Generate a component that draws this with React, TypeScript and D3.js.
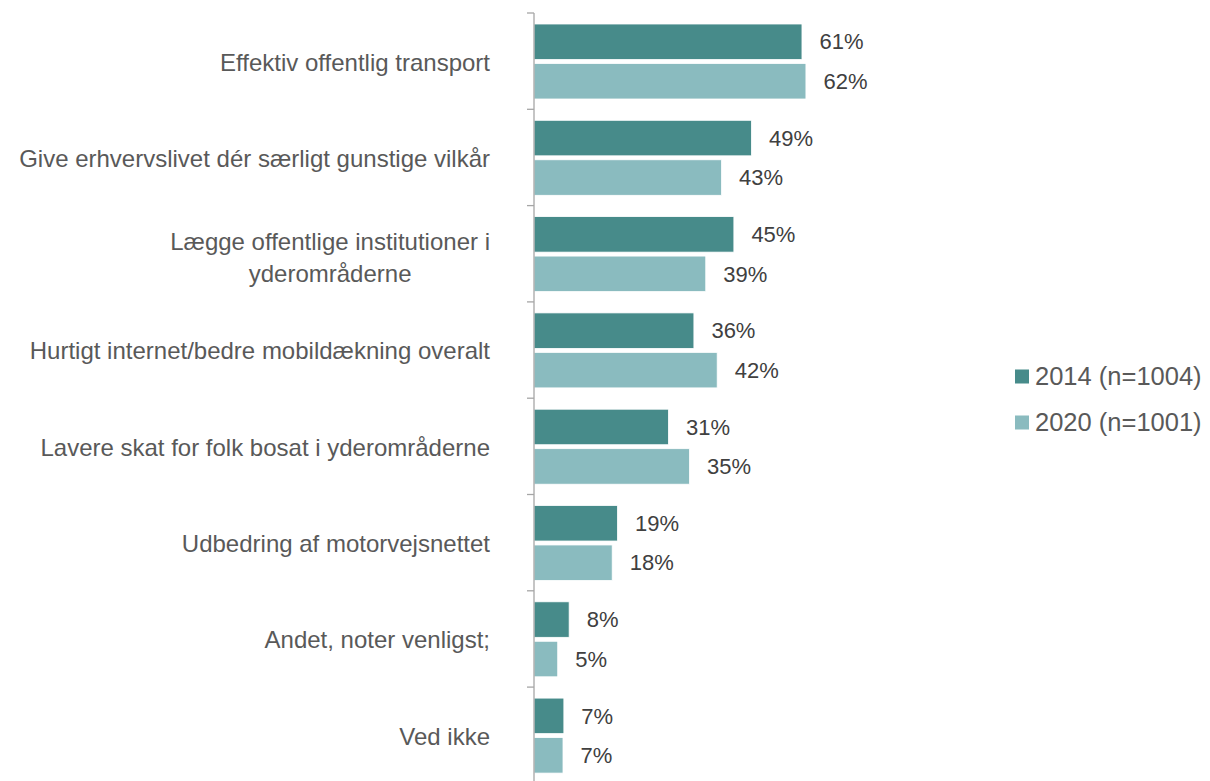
import React, { useEffect, useRef } from "react";
import * as d3 from "d3";

const categories: string[][] = [
  ["Effektiv offentlig transport"],
  ["Give erhvervslivet dér særligt gunstige vilkår"],
  ["Lægge offentlige institutioner i", "yderområderne"],
  ["Hurtigt internet/bedre mobildækning overalt"],
  ["Lavere skat for folk bosat i yderområderne"],
  ["Udbedring af motorvejsnettet"],
  ["Andet, noter venligst;"],
  ["Ved ikke"],
];
const seriesNames = ["2014 (n=1004)", "2020 (n=1001)"];
// bar lengths
const values2014 = [61.0, 49.5, 45.5, 36.4, 30.6, 19.0, 8.0, 6.8];
const values2020 = [61.9, 42.7, 39.1, 41.7, 35.4, 17.8, 5.4, 6.6];
// printed data labels
const labels2014 = ["61%", "49%", "45%", "36%", "31%", "19%", "8%", "7%"];
const labels2020 = ["62%", "43%", "39%", "42%", "35%", "18%", "5%", "7%"];
const colors = ["#478B8A", "#8ABBBF"];

const W = 1210;
const H = 781;

export default function App() {
  const ref = useRef<SVGSVGElement>(null);

  useEffect(() => {
    const svg = d3.select(ref.current);
    svg.selectAll("*").remove();
    const font = "'Liberation Sans', Arial, sans-serif";

    const x = d3.scaleLinear().domain([0, 100]).range([534, 973.3]);
    const bandH = 96.3;
    const y = d3
      .scaleBand<number>()
      .domain(d3.range(categories.length))
      .range([13, 13 + bandH * categories.length])
      .padding(0);
    const inner = d3
      .scaleBand<number>()
      .domain([0, 1])
      .range([11, 86])
      .paddingInner(0.1);

    const series = [values2014, values2020];
    const labels = [labels2014, labels2020];

    const g = svg.append("g");
    series.forEach((vals, si) => {
      g.selectAll(null)
        .data(vals)
        .enter()
        .append("rect")
        .attr("x", x(0))
        .attr("y", (_d, i) => (y(i) as number) + (inner(si) as number))
        .attr("width", (d) => x(d) - x(0))
        .attr("height", inner.bandwidth())
        .attr("fill", colors[si])
        .attr("stroke", "#ffffff")
        .attr("stroke-width", 0.8);
      g.selectAll(null)
        .data(vals)
        .enter()
        .append("text")
        .attr("x", (d) => x(d) + 17.5)
        .attr("y", (_d, i) => (y(i) as number) + (inner(si) as number) + inner.bandwidth() / 2)
        .attr("dy", "0.35em")
        .attr("font-family", font)
        .attr("font-size", 22)
        .attr("fill", "#404040")
        .text((_d, i) => labels[si][i]);
    });

    // axis line and ticks
    const axisG = svg.append("g");
    axisG
      .append("line")
      .attr("x1", x(0))
      .attr("x2", x(0))
      .attr("y1", 13)
      .attr("y2", 13 + bandH * categories.length)
      .attr("stroke", "#A6A6A6")
      .attr("stroke-width", 1.3);
    axisG
      .selectAll(null)
      .data(d3.range(categories.length + 1))
      .enter()
      .append("line")
      .attr("x1", x(0) - 7)
      .attr("x2", x(0))
      .attr("y1", (i) => 13 + bandH * i)
      .attr("y2", (i) => 13 + bandH * i)
      .attr("stroke", "#A6A6A6")
      .attr("stroke-width", 1.3);

    // category labels
    const labelRight = 490;
    const lineH = 32;
    categories.forEach((lines, i) => {
      const cy = (y(i) as number) + y.bandwidth() / 2 + 1 + (lines.length > 1 ? 3 : 0);
      const t = svg
        .append("text")
        .attr("font-family", font)
        .attr("font-size", 24)
        .attr("fill", "#595959");
      const first = t
        .append("tspan")
        .attr("x", labelRight)
        .attr("text-anchor", "end")
        .attr("y", cy - ((lines.length - 1) * lineH) / 2)
        .attr("dy", "0.35em")
        .text(lines[0]);
      if (lines.length > 1) {
        const w = (first.node() as SVGTextContentElement).getComputedTextLength();
        const center = labelRight - w / 2;
        for (let k = 1; k < lines.length; k++) {
          t.append("tspan")
            .attr("x", center)
            .attr("text-anchor", "middle")
            .attr("y", cy - ((lines.length - 1) * lineH) / 2 + k * lineH)
            .attr("dy", "0.35em")
            .text(lines[k]);
        }
      }
    });

    // legend
    const legend = svg.append("g");
    seriesNames.forEach((name, i) => {
      const ly = 376.5 + i * 46;
      legend
        .append("rect")
        .attr("x", 1015)
        .attr("y", ly - 7)
        .attr("width", 14)
        .attr("height", 14)
        .attr("fill", colors[i]);
      legend
        .append("text")
        .attr("x", 1035)
        .attr("y", ly)
        .attr("dy", "0.35em")
        .attr("font-family", font)
        .attr("font-size", 25.5)
        .attr("fill", "#595959")
        .text(name);
    });
  }, []);

  return (
    <svg
      ref={ref}
      width={W}
      height={H}
      style={{ position: "absolute", left: 0, top: 0, background: "#fff" }}
    />
  );
}
